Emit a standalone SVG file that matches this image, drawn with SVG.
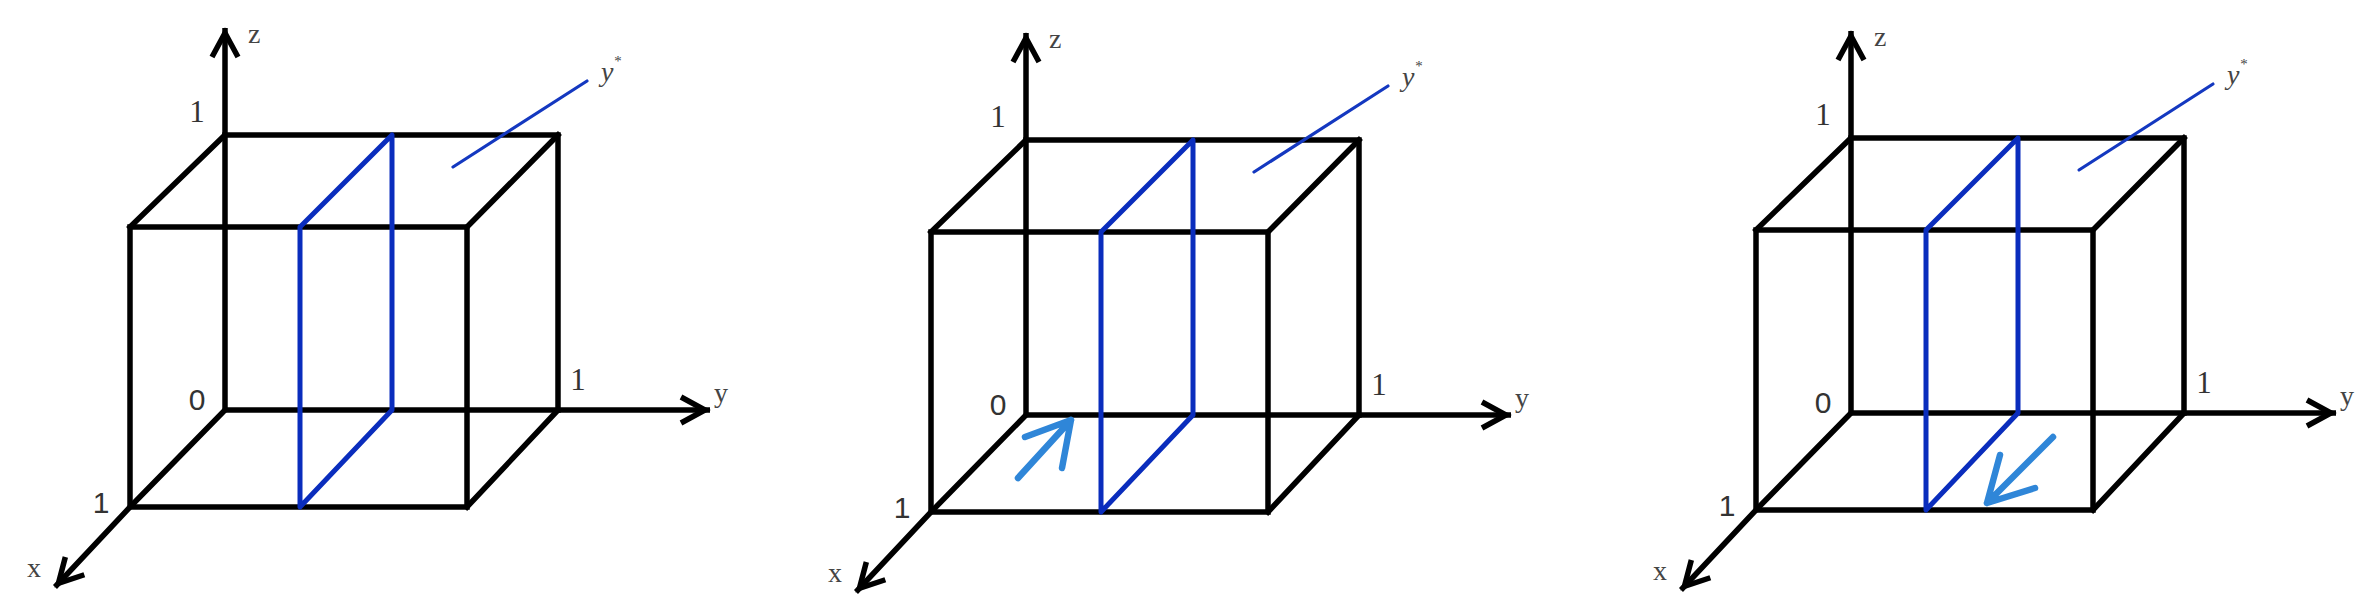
<svg xmlns="http://www.w3.org/2000/svg" width="2380" height="612" viewBox="0 0 2380 612">
  <style>
    .edge { fill: none; stroke: #000; stroke-width: 5.5; stroke-linecap: square; stroke-linejoin: miter; }
    .axis { fill: none; stroke: #000; stroke-width: 5.5; stroke-linecap: butt; }
    .plane { fill: none; stroke: #0a2dbd; stroke-width: 5; stroke-linejoin: round; stroke-linecap: round; }
    .leader { fill: none; stroke: #1438c0; stroke-width: 3.2; stroke-linecap: round; }
    .move { fill: none; stroke: #2f86d8; stroke-width: 6.5; stroke-linecap: round; stroke-linejoin: round; }
    .lbl { font-family: "Liberation Serif", "Times New Roman", serif; fill: #444; font-size: 28px; }
    .num { font-family: "Liberation Serif", "Times New Roman", serif; fill: #333; font-size: 31px; text-anchor: middle; }
    .snum { font-family: "Liberation Sans", Arial, sans-serif; fill: #333; font-size: 30px; text-anchor: middle; }
  </style>
  <defs>
    <marker id="ah" markerUnits="userSpaceOnUse" markerWidth="60" markerHeight="60" viewBox="-40 -30 60 60" refX="0" refY="0" orient="auto">
      <path d="M-29,-13 L-5,0 L-29,13" fill="none" stroke="#000" stroke-width="5.5" stroke-linejoin="miter"/>
    </marker>
  </defs>
  <rect width="2380" height="612" fill="#fff"/>

  <!-- Panel 1 -->
  <g id="panel1">
    <g id="p1-axes">
      <path class="axis" d="M225,410 V28" marker-end="url(#ah)"/>
      <path class="axis" d="M225,410 H710" marker-end="url(#ah)"/>
      <path class="axis" d="M225,410 L130,507 L55,587" marker-end="url(#ah)"/>
    </g>
    <g id="p1-cube">
      <path class="edge" d="M225,135 H558 V410"/>
      <path class="edge" d="M130,227 H467 V507 H130 Z"/>
      <path class="edge" d="M225,135 L130,227 M558,135 L467,227 M558,410 L467,507"/>
    </g>
    <g id="p1-plane">
      <path class="plane" d="M300,227 L392,135 V410 L300,507 Z"/>
      <path class="leader" d="M453,167 L587,81"/>
    </g>
    <g id="p1-labels">
      <text class="lbl" x="248" y="43">z</text>
      <text class="num" x="197" y="122">1</text>
      <text class="lbl" x="601" y="81" font-style="italic">y<tspan font-size="15" dy="-15">*</tspan></text>
      <text class="snum" x="197" y="410">0</text>
      <text class="num" x="578" y="390">1</text>
      <text class="lbl" x="714" y="402">y</text>
      <text class="snum" x="101" y="513">1</text>
      <text class="lbl" x="27" y="577">x</text>
    </g>
  </g>

  <!-- Panel 2 -->
  <g id="panel2" transform="translate(801,5)">
    <g id="p2-axes">
      <path class="axis" d="M225,410 V28" marker-end="url(#ah)"/>
      <path class="axis" d="M225,410 H710" marker-end="url(#ah)"/>
      <path class="axis" d="M225,410 L130,507 L55,587" marker-end="url(#ah)"/>
    </g>
    <g id="p2-cube">
      <path class="edge" d="M225,135 H558 V410"/>
      <path class="edge" d="M130,227 H467 V507 H130 Z"/>
      <path class="edge" d="M225,135 L130,227 M558,135 L467,227 M558,410 L467,507"/>
    </g>
    <g id="p2-plane">
      <path class="plane" d="M300,227 L392,135 V410 L300,507 Z"/>
      <path class="leader" d="M453,167 L587,81"/>
    </g>
    <g id="p2-move">
      <path class="move" d="M217,473 L270,415 M224,432 L270,415 L261,463"/>
    </g>
    <g id="p2-labels">
      <text class="lbl" x="248" y="43">z</text>
      <text class="num" x="197" y="122">1</text>
      <text class="lbl" x="601" y="81" font-style="italic">y<tspan font-size="15" dy="-15">*</tspan></text>
      <text class="snum" x="197" y="410">0</text>
      <text class="num" x="578" y="390">1</text>
      <text class="lbl" x="714" y="402">y</text>
      <text class="snum" x="101" y="513">1</text>
      <text class="lbl" x="27" y="577">x</text>
    </g>
  </g>

  <!-- Panel 3 -->
  <g id="panel3" transform="translate(1626,3)">
    <g id="p3-axes">
      <path class="axis" d="M225,410 V28" marker-end="url(#ah)"/>
      <path class="axis" d="M225,410 H710" marker-end="url(#ah)"/>
      <path class="axis" d="M225,410 L130,507 L55,587" marker-end="url(#ah)"/>
    </g>
    <g id="p3-cube">
      <path class="edge" d="M225,135 H558 V410"/>
      <path class="edge" d="M130,227 H467 V507 H130 Z"/>
      <path class="edge" d="M225,135 L130,227 M558,135 L467,227 M558,410 L467,507"/>
    </g>
    <g id="p3-plane">
      <path class="plane" d="M300,227 L392,135 V410 L300,507 Z"/>
      <path class="leader" d="M453,167 L587,81"/>
    </g>
    <g id="p3-move">
      <path class="move" d="M427,434 L361,500 M374,452 L361,500 L409,485"/>
    </g>
    <g id="p3-labels">
      <text class="lbl" x="248" y="43">z</text>
      <text class="num" x="197" y="122">1</text>
      <text class="lbl" x="601" y="81" font-style="italic">y<tspan font-size="15" dy="-15">*</tspan></text>
      <text class="snum" x="197" y="410">0</text>
      <text class="num" x="578" y="390">1</text>
      <text class="lbl" x="714" y="402">y</text>
      <text class="snum" x="101" y="513">1</text>
      <text class="lbl" x="27" y="577">x</text>
    </g>
  </g>
</svg>
